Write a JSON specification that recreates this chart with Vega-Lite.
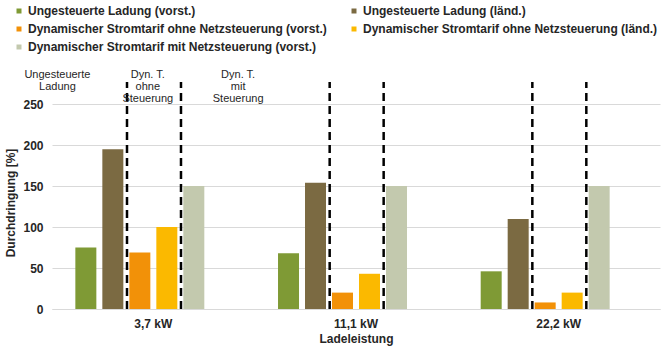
{
  "$schema": "https://vega.github.io/schema/vega-lite/v6.json",
  "width": 608,
  "height": 213,
  "autosize": {"type": "none"},
  "padding": {"left": 52, "top": 96, "right": 4, "bottom": 40},
  "config": {"view": {"stroke": null}, "font": "Liberation Sans"},
  "encoding": {
    "x": {
      "field": "Ladeleistung",
      "type": "nominal",
      "sort": ["3,7 kW", "11,1 kW", "22,2 kW"],
      "scale": {"paddingInner": 0, "paddingOuter": 0},
      "title": "Ladeleistung",
      "axis": {
        "labelAngle": 0,
        "ticks": false,
        "domain": true,
        "domainColor": "#d9d9d9",
        "labelFontSize": 12,
        "labelFontWeight": "bold",
        "labelColor": "#262626",
        "labelPadding": 9,
        "titleFontSize": 12,
        "titleFontWeight": "bold",
        "titleColor": "#262626",
        "titlePadding": 4
      }
    }
  },
  "layer": [
    {
      "data": {
        "values": [
          {"Ladeleistung": "3,7 kW", "Serie": "Ungesteuerte Ladung (vorst.)", "Wert": 75},
          {"Ladeleistung": "3,7 kW", "Serie": "Ungesteuerte Ladung (länd.)", "Wert": 195},
          {"Ladeleistung": "3,7 kW", "Serie": "Dynamischer Stromtarif ohne Netzsteuerung (vorst.)", "Wert": 69},
          {"Ladeleistung": "3,7 kW", "Serie": "Dynamischer Stromtarif ohne Netzsteuerung (länd.)", "Wert": 100},
          {"Ladeleistung": "3,7 kW", "Serie": "Dynamischer Stromtarif mit Netzsteuerung (vorst.)", "Wert": 150},
          {"Ladeleistung": "11,1 kW", "Serie": "Ungesteuerte Ladung (vorst.)", "Wert": 68},
          {"Ladeleistung": "11,1 kW", "Serie": "Ungesteuerte Ladung (länd.)", "Wert": 154},
          {"Ladeleistung": "11,1 kW", "Serie": "Dynamischer Stromtarif ohne Netzsteuerung (vorst.)", "Wert": 20},
          {"Ladeleistung": "11,1 kW", "Serie": "Dynamischer Stromtarif ohne Netzsteuerung (länd.)", "Wert": 43},
          {"Ladeleistung": "11,1 kW", "Serie": "Dynamischer Stromtarif mit Netzsteuerung (vorst.)", "Wert": 150},
          {"Ladeleistung": "22,2 kW", "Serie": "Ungesteuerte Ladung (vorst.)", "Wert": 46},
          {"Ladeleistung": "22,2 kW", "Serie": "Ungesteuerte Ladung (länd.)", "Wert": 110},
          {"Ladeleistung": "22,2 kW", "Serie": "Dynamischer Stromtarif ohne Netzsteuerung (vorst.)", "Wert": 8},
          {"Ladeleistung": "22,2 kW", "Serie": "Dynamischer Stromtarif ohne Netzsteuerung (länd.)", "Wert": 20},
          {"Ladeleistung": "22,2 kW", "Serie": "Dynamischer Stromtarif mit Netzsteuerung (vorst.)", "Wert": 150}
        ]
      },
      "mark": {"type": "bar"},
      "encoding": {
        "xOffset": {
          "field": "Serie",
          "type": "nominal",
          "scale": {
            "domain": [
              "Ungesteuerte Ladung (vorst.)",
              "Ungesteuerte Ladung (länd.)",
              "Dynamischer Stromtarif ohne Netzsteuerung (vorst.)",
              "Dynamischer Stromtarif ohne Netzsteuerung (länd.)",
              "Dynamischer Stromtarif mit Netzsteuerung (vorst.)",
              "leer"
            ],
            "paddingInner": 0.222,
            "paddingOuter": 0.865
          }
        },
        "y": {
          "field": "Wert",
          "type": "quantitative",
          "scale": {"domain": [0, 250]},
          "title": "Durchdringung [%]",
          "axis": {
            "values": [0, 50, 100, 150, 200, 250],
            "grid": true,
            "gridColor": "#d9d9d9",
            "domain": false,
            "ticks": false,
            "labelFontSize": 12,
            "labelFontWeight": "bold",
            "labelColor": "#262626",
            "labelPadding": 9,
            "titleFontSize": 12,
            "titleFontWeight": "bold",
            "titleColor": "#262626",
            "titlePadding": 5
          }
        },
        "color": {
          "field": "Serie",
          "type": "nominal",
          "scale": {
            "domain": [
              "Ungesteuerte Ladung (vorst.)",
              "Ungesteuerte Ladung (länd.)",
              "Dynamischer Stromtarif ohne Netzsteuerung (vorst.)",
              "Dynamischer Stromtarif ohne Netzsteuerung (länd.)",
              "Dynamischer Stromtarif mit Netzsteuerung (vorst.)"
            ],
            "range": ["#7f9a35", "#7b6a42", "#f29108", "#fbb900", "#c3c9ae"]
          },
          "legend": {
            "orient": "none",
            "direction": "horizontal",
            "legendX": -39,
            "legendY": -91,
            "columns": 2,
            "title": null,
            "symbolType": "square",
            "symbolSize": 25,
            "symbolStrokeWidth": 0,
            "labelFontSize": 12,
            "labelFontWeight": "bold",
            "labelColor": "#262626",
            "labelOffset": 3,
            "labelLimit": 400,
            "columnPadding": 21,
            "rowPadding": 6,
            "padding": 0
          }
        }
      }
    },
    {
      "data": {
        "values": [
          {"Ladeleistung": "3,7 kW", "Grenze": "g1"},
          {"Ladeleistung": "3,7 kW", "Grenze": "g2"},
          {"Ladeleistung": "11,1 kW", "Grenze": "g1"},
          {"Ladeleistung": "11,1 kW", "Grenze": "g2"},
          {"Ladeleistung": "22,2 kW", "Grenze": "g1"},
          {"Ladeleistung": "22,2 kW", "Grenze": "g2"}
        ]
      },
      "mark": {"type": "rule", "color": "#000000", "strokeWidth": 2.5, "strokeDash": [8, 5]},
      "encoding": {
        "xOffset": {
          "field": "Grenze",
          "type": "nominal",
          "scale": {"domain": ["g1", "g2"], "paddingInner": 0, "paddingOuter": 0.877, "align": 0.507}
        },
        "y": {"datum": 0},
        "y2": {"datum": 277}
      }
    },
    {
      "data": {
        "values": [
          {"Ladeleistung": "3,7 kW", "Abschnitt": "a1", "Text": "Ungesteuerte\nLadung"},
          {"Ladeleistung": "3,7 kW", "Abschnitt": "a2", "Text": "Dyn. T.\nohne\nSteuerung"},
          {"Ladeleistung": "3,7 kW", "Abschnitt": "a3", "Text": "Dyn. T.\nmit\nSteuerung"}
        ]
      },
      "mark": {"type": "text", "lineBreak": "\n", "fontSize": 11, "lineHeight": 12, "baseline": "top", "align": "center", "color": "#262626", "font": "Liberation Sans"},
      "encoding": {
        "xOffset": {
          "field": "Abschnitt",
          "type": "nominal",
          "scale": {"domain": ["a1", "a2", "a3"], "paddingInner": 0, "paddingOuter": 0.1216, "align": 0.247}
        },
        "y": {"datum": 293},
        "text": {"field": "Text", "type": "nominal"}
      }
    }
  ],
  "resolve": {"scale": {"xOffset": "independent"}}
}
